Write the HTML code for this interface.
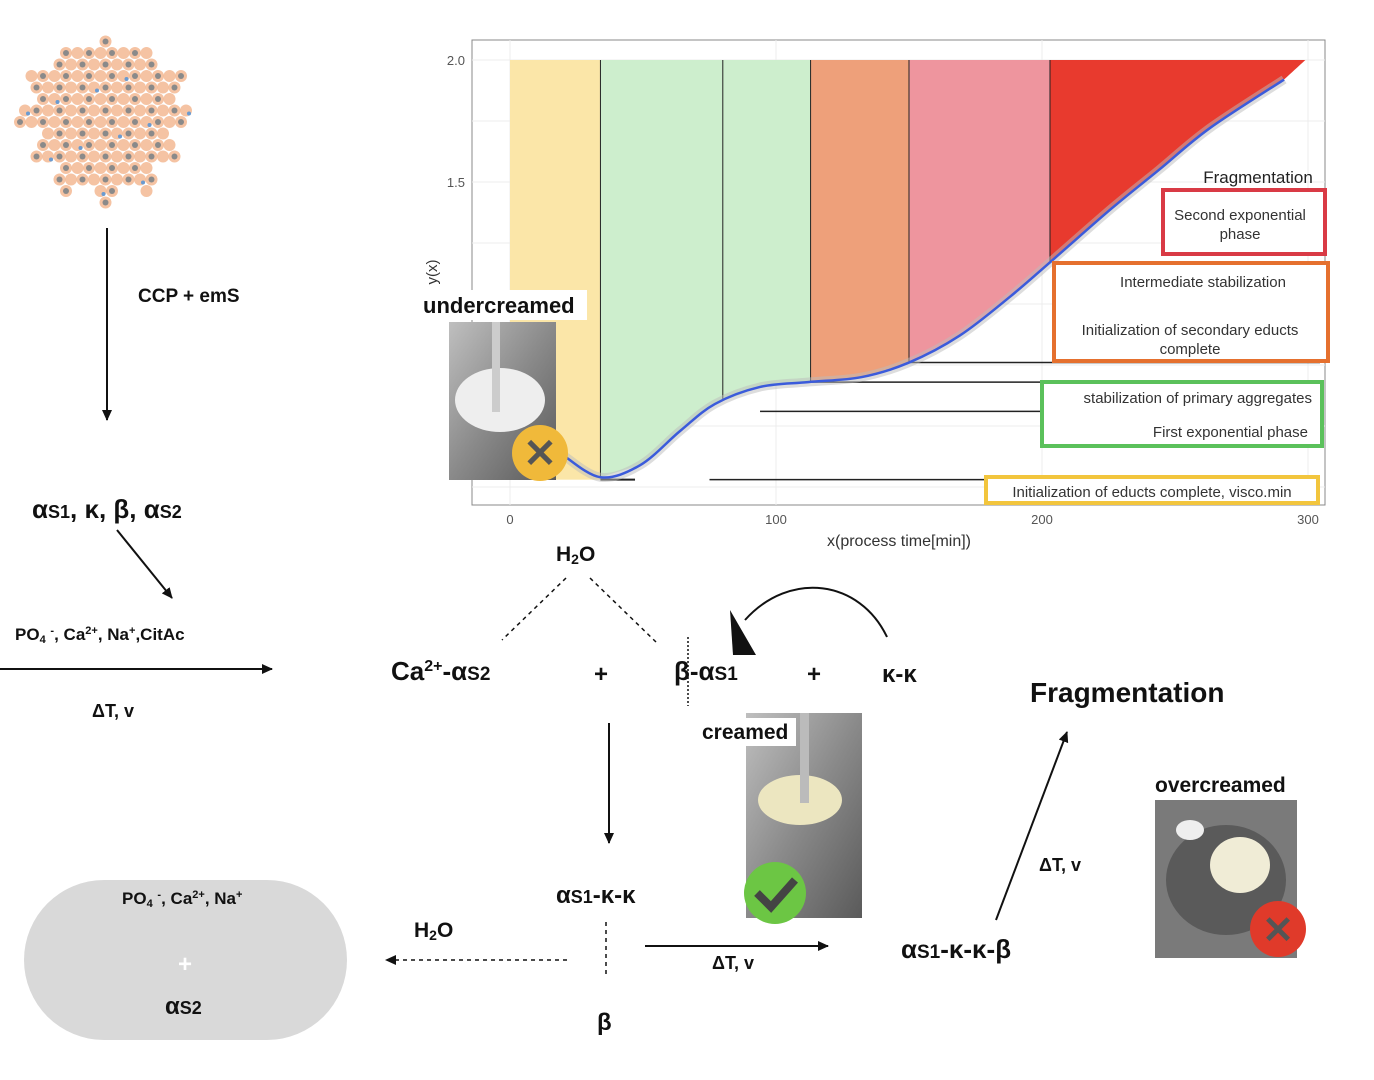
<!DOCTYPE html>
<html><head><meta charset="utf-8"><style>
html,body{margin:0;padding:0;background:#fff}
svg{display:block}
text{font-family:"Liberation Sans",sans-serif}
.b{font-weight:bold;fill:#111}
.t{font-size:15px;fill:#333}
</style></head><body>
<svg id="fig" width="1374" height="1080" viewBox="0 0 1374 1080">
<defs>
<linearGradient id="metal" x1="0" y1="0" x2="1" y2="1"><stop offset="0" stop-color="#bfbfbf"/><stop offset="0.5" stop-color="#8a8a8a"/><stop offset="1" stop-color="#5a5a5a"/></linearGradient>
<marker id="ah" markerUnits="userSpaceOnUse" markerWidth="12" markerHeight="12" refX="10" refY="5" orient="auto"><path d="M0,0 L11,5 L0,10 z" fill="#111"/></marker>
</defs>
<g id="cluster"></g>

<g id="chart">
<rect x="472" y="40" width="853" height="465" fill="#fff" stroke="#888"/>
<g id="grid"></g>
<g id="bands"></g>
<g id="hlines"></g>
<path id="ribbon" fill="none" stroke="#bbb" stroke-opacity="0.5" stroke-width="9"/>
<path id="curve" fill="none" stroke="#3b5bdb" stroke-width="2.5"/>
<g id="ticks"></g>
<text x="899" y="546" text-anchor="middle" style="font-size:16px;fill:#333">x(process time[min])</text>
<text x="437" y="272" text-anchor="middle" transform="rotate(-90 437 272)" style="font-size:15px;fill:#333">y(x)</text>
<text x="1258" y="183" text-anchor="middle" style="font-size:17px;fill:#222">Fragmentation</text>
<rect x="1163" y="190" width="162" height="64" fill="#fff" stroke="#d93a45" stroke-width="4"/>
<text x="1240" y="220" text-anchor="middle" class="t">Second exponential</text>
<text x="1240" y="239" text-anchor="middle" class="t">phase</text>
<rect x="1054" y="263" width="274" height="98" fill="#fff" stroke="#e5702e" stroke-width="4"/>
<text x="1203" y="287" text-anchor="middle" class="t">Intermediate stabilization</text>
<text x="1190" y="335" text-anchor="middle" class="t">Initialization of secondary educts</text>
<text x="1190" y="354" text-anchor="middle" class="t">complete</text>
<rect x="1042" y="382" width="280" height="64" fill="#fff" stroke="#5bc15b" stroke-width="4"/>
<text x="1312" y="403" text-anchor="end" class="t">stabilization of primary aggregates</text>
<text x="1308" y="437" text-anchor="end" class="t">First exponential phase</text>
<rect x="986" y="477" width="332" height="26" fill="#fff" stroke="#f2c53d" stroke-width="4"/>
<text x="1152" y="497" text-anchor="middle" class="t">Initialization of educts complete, visco.min</text>
</g>

<g>
<rect x="421" y="290" width="166" height="30" fill="#fff"/>
<text x="423" y="313" class="b" style="font-size:22px">undercreamed</text>
<rect x="449" y="322" width="107" height="158" fill="url(#metal)"/>
<ellipse cx="500" cy="400" rx="45" ry="32" fill="#eee"/>
<rect x="492" y="322" width="8" height="90" fill="#ccc"/>
<circle cx="540" cy="453" r="28" fill="#f0b93a"/>
<text x="540" y="467" text-anchor="middle" style="font-size:40px;font-weight:bold;fill:#555">✕</text>
</g>

<g>
<rect x="746" y="713" width="116" height="205" fill="url(#metal)"/>
<ellipse cx="800" cy="800" rx="42" ry="25" fill="#ece6c0"/>
<rect x="800" y="713" width="9" height="90" fill="#bbb"/>
<rect x="700" y="718" width="96" height="28" fill="#fff"/>
<text x="702" y="739" class="b" style="font-size:21px">creamed</text>
<circle cx="775" cy="893" r="31" fill="#6cc644"/>
<path d="M757,893 L771,907 L795,880" fill="none" stroke="#444" stroke-width="8"/>
</g>

<g>
<text x="1155" y="792" class="b" style="font-size:21px">overcreamed</text>
<rect x="1155" y="800" width="142" height="158" fill="#7a7a7a"/>
<ellipse cx="1226" cy="880" rx="60" ry="55" fill="#5a5a5a"/>
<ellipse cx="1240" cy="865" rx="30" ry="28" fill="#f0ecd6"/>
<ellipse cx="1190" cy="830" rx="14" ry="10" fill="#eee"/>
<circle cx="1278" cy="929" r="28" fill="#e03a2a"/>
<text x="1278" y="943" text-anchor="middle" style="font-size:38px;font-weight:bold;fill:#555">✕</text>
</g>

<g fill="none" stroke="#111" stroke-width="2">
<line x1="107" y1="228" x2="107" y2="420" marker-end="url(#ah)"/>
<line x1="117" y1="530" x2="172" y2="598" marker-end="url(#ah)"/>
<line x1="0" y1="669" x2="272" y2="669" marker-end="url(#ah)"/>
<line x1="566" y1="578" x2="502" y2="640" stroke-dasharray="4,4" stroke-width="1.5"/>
<line x1="590" y1="578" x2="656" y2="642" stroke-dasharray="4,4" stroke-width="1.5"/>
<line x1="688" y1="637" x2="688" y2="706" stroke-dasharray="2,2" stroke-width="1.5"/>
<path d="M887,637 C860,580 790,570 745,620"/>
<path d="M730,610 L733,655 L756,655 z" fill="#111" stroke="none"/>
<line x1="609" y1="723" x2="609" y2="843" marker-end="url(#ah)"/>
<line x1="606" y1="922" x2="606" y2="975" stroke-dasharray="4,4" stroke-width="1.5"/>
<line x1="567" y1="960" x2="386" y2="960" stroke-dasharray="4,4" stroke-width="1.5" marker-end="url(#ah)"/>
<line x1="645" y1="946" x2="828" y2="946" marker-end="url(#ah)"/>
<line x1="996" y1="920" x2="1067" y2="732" marker-end="url(#ah)"/>
</g>

<rect x="24" y="880" width="323" height="160" rx="80" fill="#d9d9d9"/>

<g>
<text x="138" y="302" class="b" style="font-size:19px">CCP + emS</text>
<text x="32" y="518" class="b" style="font-size:26px">α<tspan font-size="18">S1</tspan>, κ, β, α<tspan font-size="18">S2</tspan></text>
<text x="15" y="640" class="b" style="font-size:17px">PO<tspan font-size="11" dy="3">4</tspan><tspan dy="-3"> </tspan><tspan font-size="11" dy="-6">-</tspan><tspan dy="6">, Ca</tspan><tspan font-size="11" dy="-6">2+</tspan><tspan dy="6">, Na</tspan><tspan font-size="11" dy="-6">+</tspan><tspan dy="6">,CitAc</tspan></text>
<text x="92" y="717" class="b" style="font-size:18px">ΔT, v</text>
<text x="556" y="561" class="b" style="font-size:21px">H<tspan font-size="14" dy="3">2</tspan><tspan dy="-3">O</tspan></text>
<text x="391" y="680" class="b" style="font-size:26px">Ca<tspan font-size="16" dy="-9">2+</tspan><tspan dy="9">-α</tspan><tspan font-size="19">S2</tspan></text>
<text x="594" y="682" class="b" style="font-size:24px">+</text>
<text x="674" y="680" class="b" style="font-size:26px">β-α<tspan font-size="19">S1</tspan></text>
<text x="807" y="682" class="b" style="font-size:24px">+</text>
<text x="882" y="682" class="b" style="font-size:24px">κ-κ</text>
<text x="556" y="903" class="b" style="font-size:24px">α<tspan font-size="18">S1</tspan>-κ-κ</text>
<text x="414" y="937" class="b" style="font-size:21px">H<tspan font-size="14" dy="3">2</tspan><tspan dy="-3">O</tspan></text>
<text x="712" y="969" class="b" style="font-size:18px">ΔT, v</text>
<text x="597" y="1030" class="b" style="font-size:24px">β</text>
<text x="901" y="958" class="b" style="font-size:26px">α<tspan font-size="19">S1</tspan>-κ-κ-β</text>
<text x="1039" y="871" class="b" style="font-size:18px">ΔT, v</text>
<text x="1030" y="702" class="b" style="font-size:28px">Fragmentation</text>
<text x="122" y="904" class="b" style="font-size:17px">PO<tspan font-size="11" dy="3">4</tspan><tspan dy="-3"> </tspan><tspan font-size="11" dy="-6">-</tspan><tspan dy="6">, Ca</tspan><tspan font-size="11" dy="-6">2+</tspan><tspan dy="6">, Na</tspan><tspan font-size="11" dy="-6">+</tspan></text>
<text x="185" y="972" text-anchor="middle" style="font-size:24px;font-weight:bold;fill:#fff">+</text>
<text x="165" y="1014" class="b" style="font-size:24px">α<tspan font-size="18">S2</tspan></text>
</g>
</svg>
<script>
// chart data
const curveX = [20, 34, 49, 64, 77, 94, 112, 132, 150, 169, 188, 205, 226, 244, 263, 291];
const curveY = [0.38, 0.29, 0.34, 0.48, 0.59, 0.66, 0.68, 0.70, 0.76, 0.87, 1.03, 1.19, 1.39, 1.55, 1.72, 1.92];
const bandStarts = [34, 113, 150, 203];
const bandEnds = [113, 150, 203, 300];
const bandColors = ['#cdeecd', '#eea07a', '#ee959e', '#e83a2e'];
const phaseLines = [34, 80, 113, 150, 203];
const hlineY = [0.28, 0.68, 0.56, 0.76];
const hlineStart = [75, 112, 94, 150];
const xTicks = [0, 100, 200, 300];
const xTickLabels = ['0', '100', '200', '300'];
const yTicks = [1.5, 2.0];
const yTickLabels = ['1.5', '2.0'];
const yGrid = [0.25, 0.5, 0.75, 1.0, 1.25, 1.5, 1.75, 2.0];

const NS = 'http://www.w3.org/2000/svg';
const sx = v => 510 + v * 2.66;
const sy = v => 60 + (2 - v) * 244;
function mk(tag, attrs, parent) {
  const e = document.createElementNS(NS, tag);
  for (const k in attrs) e.setAttribute(k, attrs[k]);
  parent.appendChild(e);
  return e;
}
function interp(x) {
  if (x <= curveX[0]) return curveY[0];
  for (let i = 0; i < curveX.length - 1; i++) {
    if (x <= curveX[i + 1]) {
      const t = (x - curveX[i]) / (curveX[i + 1] - curveX[i]);
      return curveY[i] + t * (curveY[i + 1] - curveY[i]);
    }
  }
  return curveY[curveY.length - 1] + (x - curveX[curveX.length - 1]) * 0.01;
}
const grid = document.getElementById('grid');
yGrid.forEach(v => {
  const l = mk('line', {x1: 472, x2: 1325, y1: sy(v), y2: sy(v), stroke: '#ececec'}, grid);
  
  
});
xTicks.forEach(v => {
  const l = mk('line', {x1: sx(v), x2: sx(v), y1: 40, y2: 505, stroke: '#ececec'}, grid);
  
  
});
const bands = document.getElementById('bands');
const yb = mk('rect', {x: sx(0), y: sy(2), width: sx(bandStarts[0]) - sx(0), height: sy(0.28) - sy(2), fill: '#fbe6a8'}, bands);


bandStarts.forEach((s, i) => {
  const e = bandEnds[i];
  let pts = [[sx(s), sy(2)], [sx(e), sy(2)]];
  for (let x = e; x >= s; x -= 1) pts.push([sx(x), sy(Math.min(2, interp(x)))]);
  const p = mk('polygon', {points: pts.map(q => q.join(',')).join(' '), fill: bandColors[i]}, bands);
  
  
});
phaseLines.forEach(v => {
  const l = mk('line', {x1: sx(v), x2: sx(v), y1: sy(2), y2: sy(interp(v)), stroke: '#222', 'stroke-width': 1}, bands);
  
  
});
const hl = document.getElementById('hlines');
hlineY.forEach((v, i) => {
  const l = mk('line', {x1: sx(hlineStart[i]), x2: 1320, y1: sy(v), y2: sy(v), stroke: '#222', 'stroke-width': 1.5}, hl);
  
  
});
const m0 = mk('line', {x1: sx(34), x2: sx(47), y1: sy(0.28), y2: sy(0.28), stroke: '#222', 'stroke-width': 2}, hl);


const P = curveX.map((x, i) => [sx(x), sy(curveY[i])]);
let d = 'M' + P[0].join(',');
for (let i = 0; i < P.length - 1; i++) {
  const p0 = P[i - 1] || P[i], p1 = P[i], p2 = P[i + 1], p3 = P[i + 2] || p2;
  const c1 = [p1[0] + (p2[0] - p0[0]) / 6, p1[1] + (p2[1] - p0[1]) / 6];
  const c2 = [p2[0] - (p3[0] - p1[0]) / 6, p2[1] - (p3[1] - p1[1]) / 6];
  d += ' C' + c1.join(',') + ' ' + c2.join(',') + ' ' + p2.join(',');
}
document.getElementById('curve').setAttribute('d', d);
document.getElementById('ribbon').setAttribute('d', d);
const tk = document.getElementById('ticks');
xTicks.forEach((v, i) => {
  const t = mk('text', {x: sx(v), y: 524, 'text-anchor': 'middle', style: 'font-size:13px;fill:#555'}, tk);
  t.textContent = xTickLabels[i];
  
  
});
yTicks.forEach((v, i) => {
  const t = mk('text', {x: 465, y: sy(v) + 5, 'text-anchor': 'end', style: 'font-size:13px;fill:#555'}, tk);
  t.textContent = yTickLabels[i];
  
  
});
// decorative micelle
const cl = document.getElementById('cluster');
for (let r = 0; r < 16; r++) {
  for (let c = 0; c < 16; c++) {
    const x = 20 + c * 11.5 + (r % 2) * 5, y = 30 + r * 11.5;
    const dx = x - 105, dy = y - 118;
    const ang = Math.atan2(dy, dx);
    const rad = 78 + 10 * Math.cos(ang * 12);
    if (dx * dx + dy * dy > rad * rad) continue;
    const g = mk('circle', {cx: x, cy: y, r: 6, fill: '#f3b48c', opacity: 0.8}, cl);
    
    
    if ((r + c) % 2 === 0) mk('circle', {cx: x, cy: y, r: 3, fill: '#8a8a8a'}, cl);
    else if ((r * 3 + c) % 7 === 0) mk('circle', {cx: x + 3, cy: y + 3, r: 2, fill: '#6a9bd1'}, cl);
  }
}
</script>
</body></html>
